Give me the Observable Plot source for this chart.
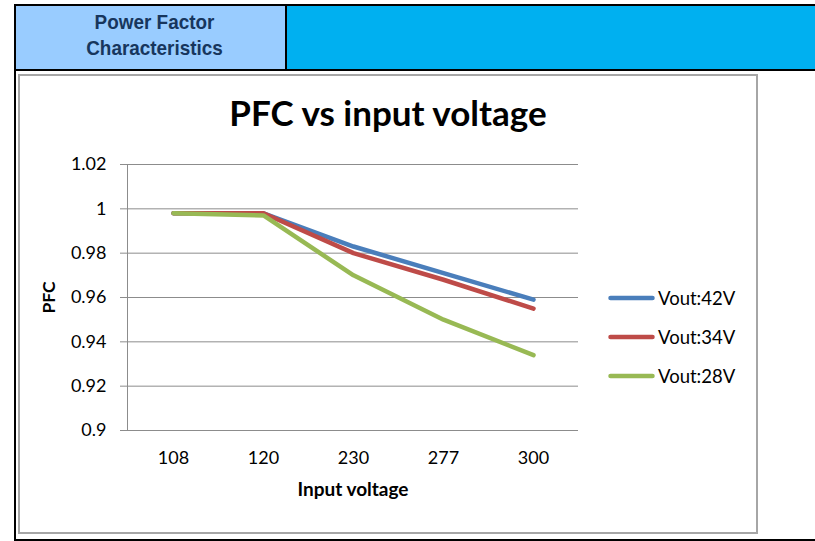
<!DOCTYPE html>
<html>
<head>
<meta charset="utf-8">
<script src="https://cdn.jsdelivr.net/npm/d3@7"></script>
<script src="https://cdn.jsdelivr.net/npm/@observablehq/plot@0.6"></script>
<style>
  body { margin: 0; background: #fff; }
  #page { position: relative; width: 815px; height: 541px; overflow: hidden; background: #fff; }
  .abs { position: absolute; }
  .hdr { font-family: "Liberation Sans", Arial, sans-serif; font-weight: bold; color: #17365D; font-size: 21px; line-height: 26px; text-align: center; transform: scaleX(0.9); transform-origin: 50% 50%; }
  #title { font-family: Lato, sans-serif; font-weight: bold; font-size: 35px; line-height: 42px; color: #000; text-align: center; white-space: nowrap; }
  .leg { font-family: Lato, sans-serif; font-size: 18.5px; color: #000; display: flex; align-items: center; white-space: nowrap; height: 24px; }
</style>
</head>
<body>
<div id="page">
  <div class="abs" style="left:16px;top:6px;width:269px;height:63px;background:#99CCFF;"></div>
  <div class="abs" style="left:287px;top:6px;width:528px;height:63px;background:#00B0F0;"></div>
  <div class="abs hdr" id="hdrText" style="left:20px;top:9px;width:269px;"></div>
  <div class="abs" style="left:285px;top:4px;width:2px;height:66px;background:#000;"></div>
  <div class="abs" style="left:14px;top:4px;width:801px;height:2px;background:#000;"></div>
  <div class="abs" style="left:14px;top:69px;width:801px;height:2px;background:#000;"></div>
  <div class="abs" style="left:14px;top:4px;width:2px;height:537px;background:#000;"></div>
  <div class="abs" style="left:14px;top:539px;width:801px;height:2px;background:#000;"></div>
  <div class="abs" style="left:18px;top:74px;width:736px;height:456px;border:2px solid #A6A6A6;"></div>
  <div class="abs" id="chart" style="left:0;top:0;"></div>
  <div class="abs" id="title" style="left:18px;top:91px;width:740px;"></div>
  <div class="abs" id="legend" style="left:608px;top:286px;"></div>
</div>
<script>
// ---- data ----
const headerLines = ["Power Factor", "Characteristics"];
const chartTitle = "PFC vs input voltage";
const xLabel = "Input voltage";
const yLabel = "PFC";
const voltages = ["108", "120", "230", "277", "300"];
const seriesNames = ["Vout:42V", "Vout:34V", "Vout:28V"];
const seriesColors = ["#4A7EBB", "#BE4B48", "#98B954"];
const vout42 = [0.998, 0.998, 0.983, 0.971, 0.959];
const vout34 = [0.998, 0.998, 0.980, 0.968, 0.955];
const vout28 = [0.998, 0.997, 0.970, 0.950, 0.934];
const yTicks = [0.9, 0.92, 0.94, 0.96, 0.98, 1, 1.02];
const yTickLabels = ["0.9", "0.92", "0.94", "0.96", "0.98", "1", "1.02"];

const seriesValues = [vout42, vout34, vout28];
const rows = [];
seriesNames.forEach((s, i) => voltages.forEach((v, j) => rows.push({ series: s, voltage: v, pfc: seriesValues[i][j] })));

document.getElementById("hdrText").innerHTML = headerLines.join("<br>");
document.getElementById("title").textContent = chartTitle;

const grid = "#8C8C8C";
const plot = Plot.plot({
  width: 815,
  height: 541,
  marginLeft: 127,
  marginRight: 237,
  marginTop: 164,
  marginBottom: 111,
  style: { background: "transparent", fontFamily: "Lato, sans-serif", fontSize: "18px", color: "#000", overflow: "visible" },
  x: { type: "point", domain: voltages, padding: 0.5 },
  y: { domain: [0.9, 1.02] },
  color: { domain: seriesNames, range: seriesColors },
  marks: [
    Plot.gridY(yTicks, { stroke: grid, strokeOpacity: 1, strokeWidth: 1 }),
    Plot.frame({ anchor: "left", stroke: grid, strokeWidth: 1 }),
    Plot.axisY(yTicks, {
      tickSize: 7, tickPadding: 14, stroke: grid,
      tickFormat: (d) => yTickLabels[yTicks.indexOf(d)],
      label: yLabel, labelAnchor: "center", labelOffset: 85, labelArrow: "none",
      fontWeight: "normal"
    }),
    Plot.axisX({ tickSize: 0, tickPadding: 21, label: null }),
    Plot.text([xLabel], { frameAnchor: "bottom", dy: 65, text: (d) => d, fontWeight: "bold", fontSize: 19, fontFamily: "Lato, sans-serif" }),
    Plot.line(rows, { x: "voltage", y: "pfc", z: "series", stroke: "series", strokeWidth: 4.5, strokeLinecap: "round", strokeLinejoin: "round" })
  ]
});
document.getElementById("chart").appendChild(plot);
// bold y label
plot.querySelectorAll("g[aria-label='y-axis label'] text").forEach((t) => { t.setAttribute("font-weight", "bold"); t.setAttribute("font-size", "17.5"); });

const legend = document.getElementById("legend");
seriesNames.forEach((s, i) => {
  const row = document.createElement("div");
  row.className = "leg";
  row.style.marginBottom = "15px";
  row.innerHTML = `<svg width="47" height="8" style="margin-right:3px"><line x1="2.5" y1="4" x2="44.5" y2="4" stroke="${seriesColors[i]}" stroke-width="4.5" stroke-linecap="round"/></svg><span>${s}</span>`;
  legend.appendChild(row);
});
</script>
</body>
</html>
